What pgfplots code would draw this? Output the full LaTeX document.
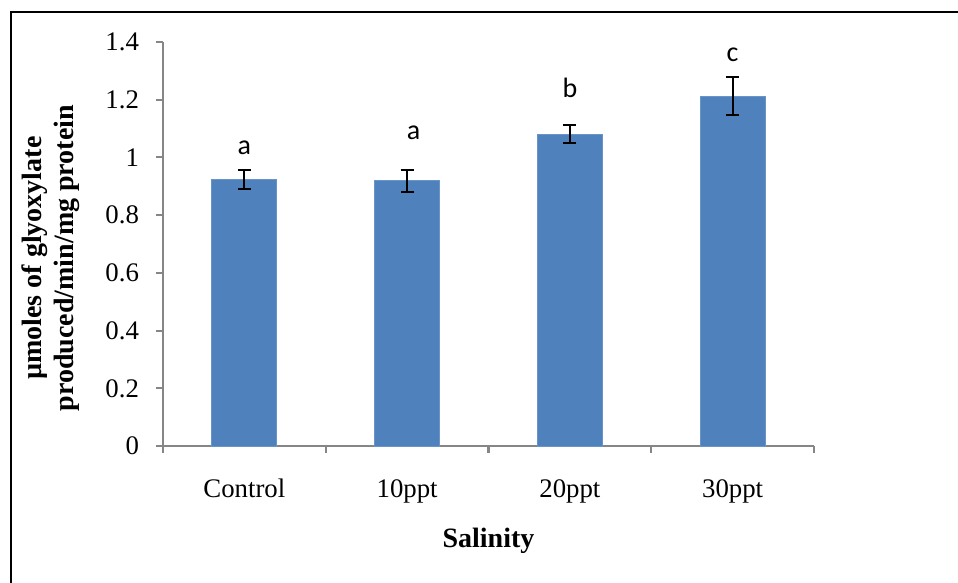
\documentclass[border=0pt]{standalone}
\usepackage{fontspec}
\setmainfont{Liberation Serif}
\newfontfamily\calibri{Carlito}
\usepackage{pgfplots}
\usepackage{pgfplotstable}
\pgfplotsset{compat=1.18}
\definecolor{barblue}{HTML}{4F81BD}
\definecolor{axisgray}{HTML}{868686}

% enzyme activity: mean and standard error per salinity level
\pgfplotstableread{
x  y      e
0  0.923  0.034
1  0.919  0.038
2  1.081  0.032
3  1.212  0.066
}\activity

\begin{document}
\begin{tikzpicture}[x=0.5pt,y=0.5pt]
\useasboundingbox (0,0) rectangle (958,583);
% frame
\draw[line width=1pt] (10.5,0) -- (10.5,570.5) -- (958,570.5);
\begin{axis}[
  at={(81.5pt,68.5pt)}, anchor=south west,
  width=325.5pt, height=202pt, scale only axis,
  xmin=-0.5, xmax=3.5, ymin=0, ymax=1.4,
  axis lines*=left,
  axis line style={axisgray, line width=1pt},
  tick style={axisgray, line width=1pt},
  tick align=outside,
  major tick length=3.5pt,
  ytick={0,0.2,0.4,0.6,0.8,1,1.2,1.4},
  yticklabels={0,0.2,0.4,0.6,0.8,1,1.2,1.4},
  xtick={-0.5,0.5,1.5,2.5,3.5},
  xticklabels={},
  extra x ticks={0,1,2,3},
  extra x tick labels={Control,10ppt,20ppt,30ppt},
  extra x tick style={major tick length=0pt},
  ticklabel style={font=\fontsize{13.4}{16}\selectfont, text=black},
  yticklabel style={anchor=east, xshift=-5pt},
  xticklabel style={anchor=base, yshift=-26pt},
  /pgf/number format/assume math mode=true,
  ylabel={µmoles of glyoxylate\\produced/min/mg protein},
  ylabel style={align=center, font=\bfseries\fontsize{14}{16}\selectfont,
    at={(axis description cs:-0.172,0.465)}, anchor=center},
  xlabel={Salinity},
  xlabel style={font=\bfseries\fontsize{14}{16}\selectfont,
    at={(axis description cs:0.5,-0.235)}, anchor=center},
  clip=false,
]
\addplot[ybar, bar width=32.5pt, fill=barblue, draw=barblue!85!white,
  error bars/.cd, y dir=both, y explicit,
  error bar style={line width=1pt, black},
  error mark options={rotate=90, mark size=3.25pt, line width=1pt, black}]
  table[x=x, y=y, y error=e] {\activity};
\begin{scope}[every node/.style={font=\calibri\fontsize{14}{16}\selectfont}]
\node at (axis cs:0,1.033) {a};
\node at (axis cs:1.04,1.085) {a};
\node at (axis cs:2,1.242) {b};
\node at (axis cs:3,1.355) {c};
\end{scope}
\end{axis}
\end{tikzpicture}
\end{document}
